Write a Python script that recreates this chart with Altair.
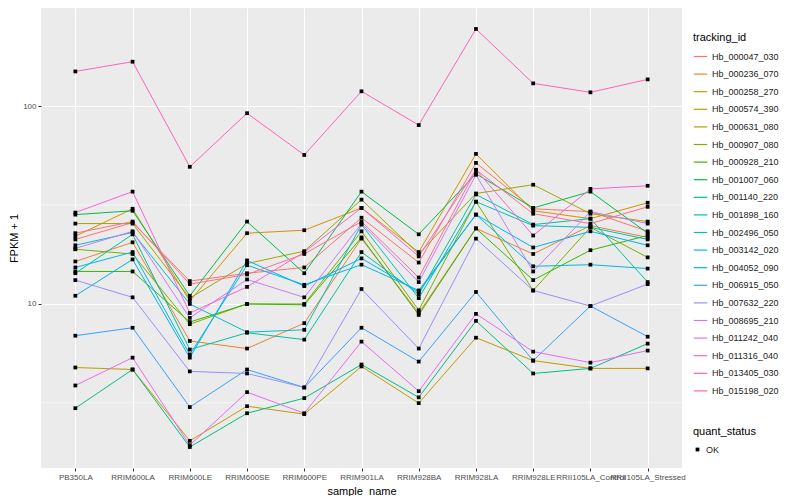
import altair as alt
import pandas as pd

samples = ["PB350LA", "RRIM600LA", "RRIM600LE", "RRIM600SE", "RRIM600PE", "RRIM901LA",
           "RRIM928BA", "RRIM928LA", "RRIM928LE", "RRII105LA_Control", "RRII105LA_Stressed"]

hb_000047_030 = [21.2, 25.8, 13.05, 14.3, 15.3, 27.3, 16.2, 51.7, 30.3, 29.3, 23.3]
hb_000236_070 = [16.4, 20.5, 6.5, 5.95, 8.0, 21.4, 9.0, 24.1, 17.9, 24.9, 21.7]
hb_000258_270 = [22.0, 30.3, 10.35, 22.8, 23.6, 30.6, 18.3, 57.4, 29.6, 27.0, 32.5]
hb_000574_390 = [4.77, 4.66, 2.03, 3.04, 2.77, 4.83, 3.15, 6.75, 5.17, 4.72, 4.72]
hb_000631_080 = [25.5, 25.5, 10.7, 16.0, 18.5, 33.7, 17.9, 36.2, 40.1, 28.6, 26.1]
hb_000907_080 = [18.9, 17.9, 7.9, 10.0, 10.0, 23.3, 9.3, 32.9, 11.7, 24.4, 17.2]
hb_000928_210 = [14.6, 14.6, 8.1, 10.0, 9.9, 21.7, 8.8, 24.1, 13.2, 18.7, 22.2]
hb_001007_060 = [28.3, 29.6, 11.0, 26.1, 14.3, 37.0, 22.5, 45.5, 30.6, 37.0, 22.8]
hb_001140_220 = [2.97, 4.66, 1.89, 2.80, 3.34, 4.94, 3.37, 8.21, 4.45, 4.72, 6.30]
hb_001898_160 = [14.3, 22.5, 5.88, 7.15, 6.6, 18.3, 11.2, 35.8, 25.2, 27.0, 12.9]
hb_002496_050 = [19.8, 23.0, 10.0, 7.2, 7.4, 25.2, 10.7, 32.9, 24.9, 24.4, 21.2]
hb_003142_020 = [15.3, 18.3, 5.55, 15.7, 12.5, 15.8, 11.7, 28.3, 15.5, 15.8, 15.1]
hb_004052_090 = [11.0, 16.8, 5.35, 16.6, 12.3, 17.0, 11.5, 28.3, 19.3, 23.3, 19.8]
hb_006915_050 = [6.91, 7.58, 3.01, 4.66, 3.78, 7.58, 5.11, 11.5, 5.17, 9.76, 6.83]
hb_007632_220 = [13.2, 10.8, 4.56, 4.45, 3.78, 11.9, 5.95, 21.4, 11.7, 9.76, 12.6]
hb_008695_210 = [19.1, 23.3, 8.5, 13.3, 10.8, 25.5, 12.9, 45.0, 14.6, 29.3, 25.5]
hb_011242_040 = [3.87, 5.35, 1.93, 3.58, 2.80, 6.45, 3.62, 8.91, 5.74, 5.05, 5.81]
hb_011316_040 = [29.0, 37.0, 9.0, 12.2, 18.3, 30.6, 17.4, 47.7, 22.2, 38.2, 39.6]
hb_013405_030 = [150, 168, 49.4, 92.2, 56.7, 119, 80.3, 246, 130.5, 117.6, 136.7]
hb_015198_020 = [22.8, 26.1, 12.6, 14.1, 17.9, 26.1, 13.6, 47.7, 28.6, 25.5, 31.0]

tracking_ids = ["Hb_000047_030", "Hb_000236_070", "Hb_000258_270", "Hb_000574_390",
                "Hb_000631_080", "Hb_000907_080", "Hb_000928_210", "Hb_001007_060",
                "Hb_001140_220", "Hb_001898_160", "Hb_002496_050", "Hb_003142_020",
                "Hb_004052_090", "Hb_006915_050", "Hb_007632_220", "Hb_008695_210",
                "Hb_011242_040", "Hb_011316_040", "Hb_013405_030", "Hb_015198_020"]
series = [hb_000047_030, hb_000236_070, hb_000258_270, hb_000574_390, hb_000631_080,
          hb_000907_080, hb_000928_210, hb_001007_060, hb_001140_220, hb_001898_160,
          hb_002496_050, hb_003142_020, hb_004052_090, hb_006915_050, hb_007632_220,
          hb_008695_210, hb_011242_040, hb_011316_040, hb_013405_030, hb_015198_020]
palette = ["#F8766D", "#EA8331", "#D89000", "#C09B00", "#A3A500", "#7CAE00", "#39B600",
           "#00BB4E", "#00BF7D", "#00C1A3", "#00BFC4", "#00BAE0", "#00B0F6", "#35A2FF",
           "#9590FF", "#C77CFF", "#E76BF3", "#FA62DB", "#FF62BC", "#FF6C91"]

minor_breaks = [3.1623, 31.623]

rows = []
for tid, vals in zip(tracking_ids, series):
    for s, v in zip(samples, vals):
        rows.append({"tracking_id": tid, "sample_name": s, "fpkm": v, "quant_status": "OK"})
df = pd.DataFrame(rows)
df["order"] = df["tracking_id"].map({t: i for i, t in enumerate(tracking_ids)})

FONT = "Liberation Sans"

x_enc = alt.X("sample_name:N", sort=samples, title="sample_name",
              scale=alt.Scale(type="point", padding=0.6),
              axis=alt.Axis(labelAngle=0, grid=True, titlePadding=4))
y_scale = alt.Scale(type="log", domain=[1.48, 314], nice=False)

base = alt.Chart(df)

minor = alt.Chart(pd.DataFrame({"fpkm": minor_breaks})).mark_rule(
    color="white", strokeWidth=0.6
).encode(y=alt.Y("fpkm:Q", scale=y_scale, title="FPKM + 1"))

lines = base.mark_line(strokeWidth=1).encode(
    x=x_enc,
    y=alt.Y("fpkm:Q", scale=y_scale, title="FPKM + 1",
            axis=alt.Axis(values=[10, 100], format="d", titlePadding=3)),
    color=alt.Color("tracking_id:N", sort=tracking_ids,
                    scale=alt.Scale(domain=tracking_ids, range=palette),
                    legend=alt.Legend(title="tracking_id", orient="none", legendX=652, legendY=24,
                                      symbolType="stroke", symbolStrokeWidth=1.2,
                                      symbolSize=180, rowPadding=4.6, labelFontSize=9,
                                      titleFontSize=11, titleFontWeight="normal",
                                      titlePadding=6, labelColor="#222")),
    detail="tracking_id:N",
    order="order:Q",
)

points = base.mark_point(filled=True, size=14, opacity=1).encode(
    x=x_enc,
    y=alt.Y("fpkm:Q", scale=y_scale),
    color=alt.value("black"),
    shape=alt.Shape("quant_status:N", scale=alt.Scale(domain=["OK"], range=["square"]),
                    legend=alt.Legend(title="quant_status", orient="none", legendX=652, legendY=418,
                                      symbolSize=14, symbolFillColor="black", labelFontSize=9,
                                      titleFontSize=11, titleFontWeight="normal",
                                      titlePadding=8, labelColor="#222")),
)

chart = alt.layer(minor, lines, points).properties(
    width=641, height=460, padding={"left": 0, "top": 0, "right": 0, "bottom": 0}
).configure_view(
    fill="#EBEBEB", stroke=None
).configure_axis(
    domain=False, gridColor="white", gridWidth=1.1, tickColor="#333333", tickSize=3,
    labelColor="#4D4D4D", labelFontSize=8, labelFont=FONT, titleFont=FONT,
    titleFontSize=11, titleFontWeight="normal", titleColor="black", labelPadding=2
).configure_legend(
    labelFont=FONT, titleFont=FONT
)

chart.save("out.html", embed_options={"renderer": "svg", "actions": False})
